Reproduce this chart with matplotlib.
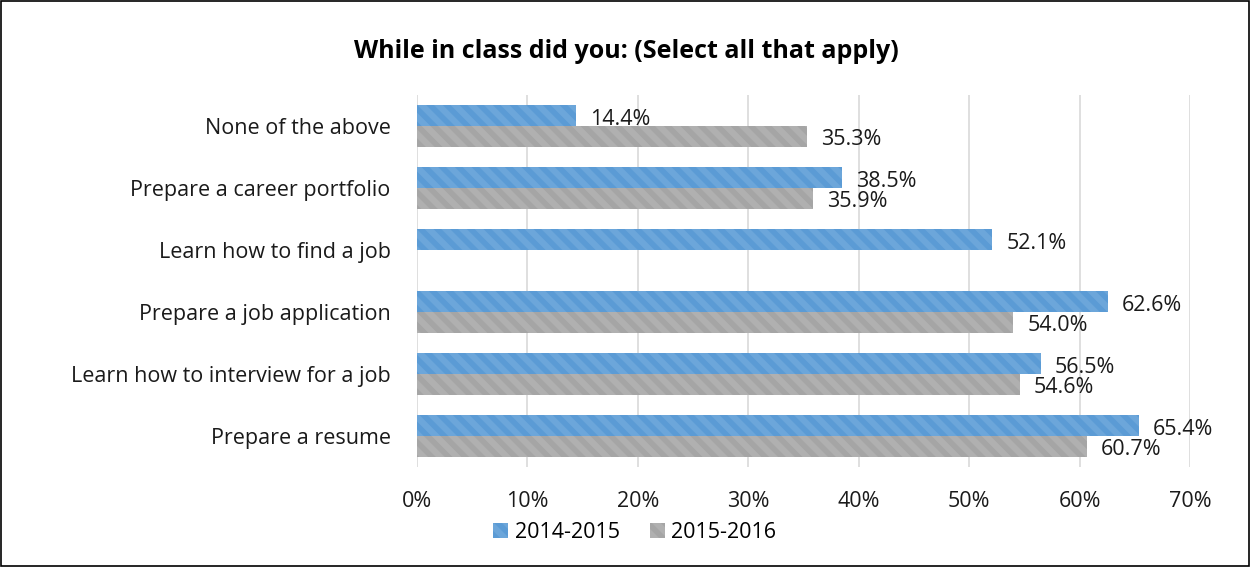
import matplotlib.pyplot as plt
import numpy as np
from matplotlib.patches import Rectangle

plt.rcParams['font.family'] = ['Open Sans', 'DejaVu Sans']
plt.rcParams['hatch.linewidth'] = 4.5

categories = ['None of the above', 'Prepare a career portfolio', 'Learn how to find a job',
              'Prepare a job application', 'Learn how to interview for a job', 'Prepare a resume']
y2014 = [14.4, 38.5, 52.1, 62.6, 56.5, 65.4]
y2015 = [35.3, 35.9, np.nan, 54.0, 54.6, 60.7]
series_names = ['2014-2015', '2015-2016']
xticks = [0, 10, 20, 30, 40, 50, 60, 70]

fig = plt.figure(figsize=(12.52, 5.67), dpi=100)
ax = fig.add_axes([0.333, 0.176, 0.6175, 0.6565])

y = np.arange(len(categories))
h = 0.34
b1 = ax.barh(y - h / 2, y2014, height=h, color='#5B9BD5', edgecolor='#6CA6DA',
             hatch='\\\\', linewidth=0, label=series_names[0], zorder=3)
b2 = ax.barh(y + h / 2, y2015, height=h, color='#A5A5A5', edgecolor='#B0B0B0',
             hatch='\\\\', linewidth=0, label=series_names[1], zorder=3)

for i, (a, b) in enumerate(zip(y2014, y2015)):
    ax.annotate(f'{a:.1f}%', (a, i - h / 2), xytext=(10, -3), textcoords='offset points',
                va='center', ha='left', fontsize=15.5, color='#1a1a1a')
    if not np.isnan(b):
        ax.annotate(f'{b:.1f}%', (b, i + h / 2), xytext=(10, -2), textcoords='offset points',
                    va='center', ha='left', fontsize=15.5, color='#1a1a1a')

ax.set_ylim(len(categories) - 0.5, -0.5)
ax.set_xlim(0, 70)
ax.set_xticks(xticks)
ax.set_xticklabels([f'{t}%' for t in xticks])
ax.set_yticks(y)
ax.set_yticklabels(categories)
ax.tick_params(axis='both', length=0, labelsize=15.5, labelcolor='#1a1a1a')
ax.tick_params(axis='x', pad=17)
ax.tick_params(axis='y', pad=19)
ax.grid(axis='x', color='#D9D9D9', linewidth=1.2, zorder=0)
for s in ax.spines.values():
    s.set_visible(False)

fig.text(0.5, 0.91, 'While in class did you: (Select all that apply)', ha='center', va='center',
         fontsize=18, fontweight='bold', color='#000000')

fig.legend(handles=[b1, b2], loc='center', bbox_to_anchor=(0.507, 0.061), ncol=2, frameon=False,
           fontsize=15.5, handlelength=0.7, handleheight=0.7, handletextpad=0.3, columnspacing=1.4)

fig.add_artist(Rectangle((0.001, 0.001), 0.997, 0.997, transform=fig.transFigure,
                         fill=False, edgecolor='black', linewidth=1.2))

fig.savefig('out.png', dpi=100)
